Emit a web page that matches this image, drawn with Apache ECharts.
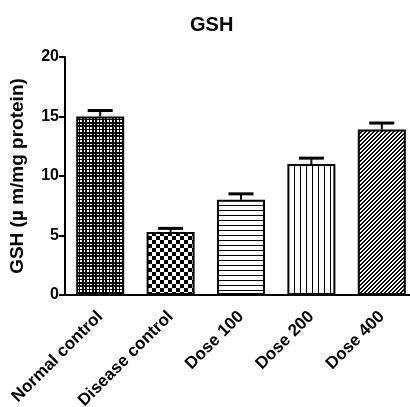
<!DOCTYPE html>
<html>
<head>
<meta charset="utf-8">
<script src="https://cdn.jsdelivr.net/npm/echarts@6/dist/echarts.min.js"></script>
<style>html,body{margin:0;padding:0;background:#fff;}#c{width:410px;height:407px;}</style>
</head>
<body>
<div id="c"></div>
<script>
const categories = ['Normal control', 'Disease control', 'Dose 100', 'Dose 200', 'Dose 400'];
const gshMean = [15.0, 5.3, 8.0, 11.0, 13.9];
const gshSem = [0.5, 0.3, 0.5, 0.5, 0.55];
const yMin = 0, yMax = 20, yStep = 5;

function tile(w, h, fn) {
  const c = document.createElement('canvas');
  c.width = w; c.height = h;
  const ctx = c.getContext('2d');
  ctx.fillStyle = '#fff'; ctx.fillRect(0, 0, w, h);
  ctx.fillStyle = '#000';
  for (let y = 0; y < h; y++) for (let x = 0; x < w; x++) if (fn(x, y)) ctx.fillRect(x, y, 1, 1);
  return { image: c, repeat: 'repeat' };
}
const wpos = [0, 1, 4, 7, 8];
const patterns = [
  tile(10, 10, (x, y) => !(wpos.includes(x) && wpos.includes(y))),
  tile(8, 8, (x, y) => ((Math.floor(x / 4) + Math.floor(y / 4)) % 2) === 0),
  tile(5, 5, (x, y) => y === 0),
  tile(6, 6, (x, y) => x === 0),
  tile(4, 4, (x, y) => ((x + y) % 4) < 2)
];

const chart = echarts.init(document.getElementById('c'), null, { renderer: 'canvas' });
chart.setOption({
  animation: false,
  backgroundColor: '#fff',
  title: {
    text: 'GSH', left: 185, top: 10,
    textStyle: { fontFamily: 'Liberation Sans', fontWeight: 'bold', fontSize: 20, color: '#000' }
  },
  grid: { left: 65, right: -7, top: 57, bottom: 112, containLabel: false, outerBoundsMode: 'none' },
  xAxis: {
    type: 'category', data: categories,
    axisLine: { lineStyle: { color: '#000', width: 2 } },
    axisTick: { alignWithLabel: true, length: 6, lineStyle: { color: '#000', width: 2 } },
    axisLabel: { interval: 0, rotate: 45, margin: 19, color: '#000', fontFamily: 'Liberation Sans', fontWeight: 'bold', fontSize: 17 }
  },
  yAxis: {
    type: 'value', min: yMin, max: yMax, interval: yStep,
    name: 'GSH (µ m/mg protein)', nameLocation: 'middle', nameGap: 38,
    nameTextStyle: { fontFamily: 'Liberation Sans', fontWeight: 'bold', fontSize: 19, color: '#000' },
    axisLine: { show: true, lineStyle: { color: '#000', width: 2 } },
    axisTick: { show: true, length: 6, lineStyle: { color: '#000', width: 2 } },
    axisLabel: { margin: 6, color: '#000', fontFamily: 'Liberation Sans', fontWeight: 'bold', fontSize: 16 },
    splitLine: { show: false }
  },
  series: [
    {
      type: 'bar', barWidth: 48,
      data: gshMean.map((v, i) => ({ value: v, itemStyle: { color: patterns[i], borderColor: '#000', borderWidth: 2 } })),
      z: 2
    },
    {
      type: 'custom', z: 3,
      data: gshMean.map((v, i) => [i, v, gshSem[i]]),
      renderItem: function (params, api) {
        const x = api.value(0), m = api.value(1), e = api.value(2);
        const top = api.coord([x, m + e]);
        const base = api.coord([x, m]);
        const hw = 12.5;
        return {
          type: 'group', children: [
            { type: 'line', shape: { x1: top[0], y1: base[1], x2: top[0], y2: top[1] }, style: { stroke: '#000', lineWidth: 2 } },
            { type: 'line', shape: { x1: top[0] - hw, y1: top[1], x2: top[0] + hw, y2: top[1] }, style: { stroke: '#000', lineWidth: 3 } }
          ]
        };
      }
    }
  ]
});
</script>
</body>
</html>
